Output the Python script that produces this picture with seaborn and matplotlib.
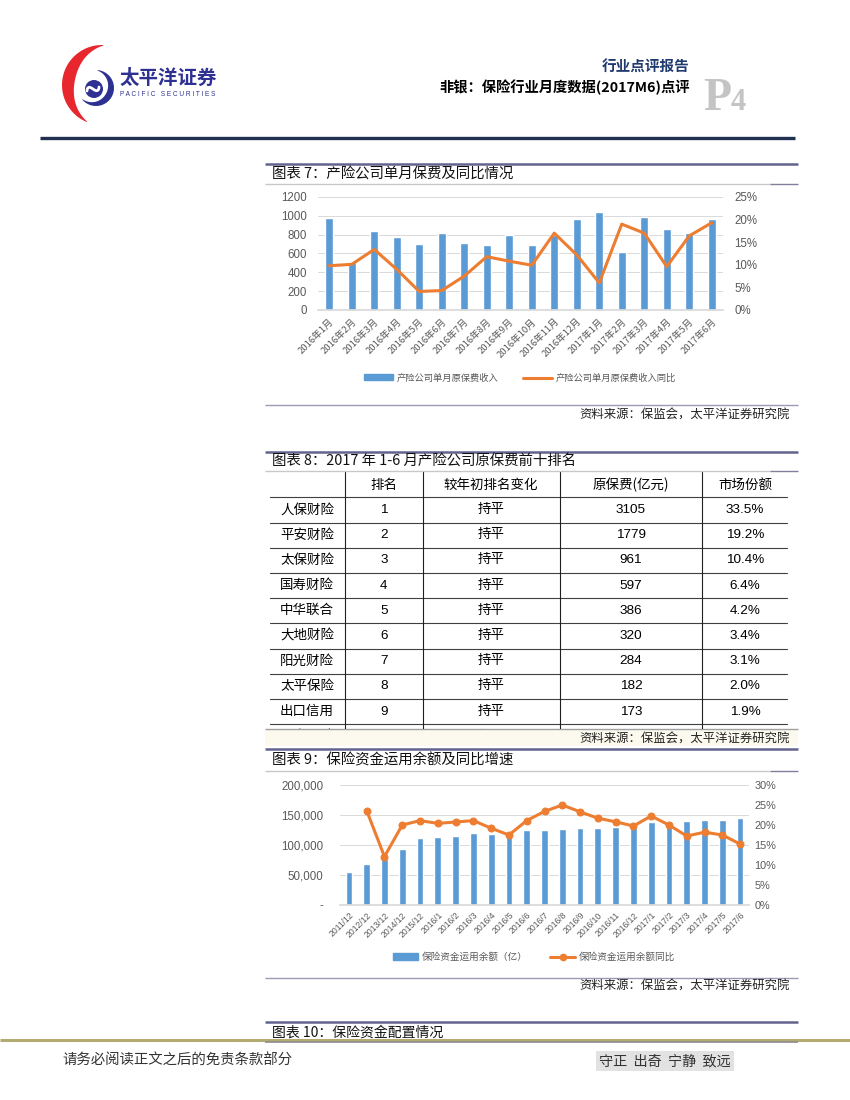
import matplotlib.pyplot as plt
import matplotlib.patches as mpatches
import matplotlib.ticker as mticker
from matplotlib.lines import Line2D
import numpy as np
import pandas as pd
import seaborn as sns

sns.set_theme(style='white')
plt.rcParams['font.family'] = ['Liberation Sans', 'Noto Sans CJK SC', 'DejaVu Sans']
plt.rcParams['axes.unicode_minus'] = False

CJK = ['Noto Sans CJK SC', 'DejaVu Sans']
BLUE = '#5b9bd5'
ORANGE = '#ed7d31'
GRAY = '#595959'
W, H = 850, 1100

# chart 7: monthly P&C premium and yoy
months7 = ['2016年1月', '2016年2月', '2016年3月', '2016年4月', '2016年5月', '2016年6月',
           '2016年7月', '2016年8月', '2016年9月', '2016年10月', '2016年11月', '2016年12月',
           '2017年1月', '2017年2月', '2017年3月', '2017年4月', '2017年5月', '2017年6月']
premium7 = [980, 515, 840, 780, 700, 815, 710, 690, 795, 685, 795, 970,
            1040, 620, 985, 855, 820, 970]
yoy7 = [0.098, 0.101, 0.134, 0.090, 0.041, 0.043, 0.075, 0.118, 0.108, 0.099, 0.170, 0.122,
        0.060, 0.190, 0.170, 0.096, 0.164, 0.193]

# chart 8: top ten table
companies = ['人保财险', '平安财险', '太保财险', '国寿财险', '中华联合', '大地财险',
             '阳光财险', '太平保险', '出口信用', '天安财险']
ranks = ['1', '2', '3', '4', '5', '6', '7', '8', '9', '10']
rank_change = ['持平'] * 10
premium8 = ['3105', '1779', '961', '597', '386', '320', '284', '182', '173', '']
share8 = ['33.5%', '19.2%', '10.4%', '6.4%', '4.2%', '3.4%', '3.1%', '2.0%', '1.9%', '']
headers8 = ['', '排名', '较年初排名变化', '原保费(亿元)', '市场份额']

# chart 9: insurance fund balance and yoy
dates9 = ['2011/12', '2012/12', '2013/12', '2014/12', '2015/12',
          '2016/1', '2016/2', '2016/3', '2016/4', '2016/5', '2016/6', '2016/7',
          '2016/8', '2016/9', '2016/10', '2016/11', '2016/12',
          '2017/1', '2017/2', '2017/3', '2017/4', '2017/5', '2017/6']
funds9 = [55500, 68500, 76900, 93300, 111800, 113300, 115000, 120000, 119000, 121500,
          125000, 125500, 126700, 127800, 129000, 130600, 133900,
          139000, 137500, 140500, 141100, 141700, 145000]
yoy9 = [np.nan, 0.236, 0.121, 0.200, 0.211, 0.204, 0.2075, 0.211, 0.192, 0.175, 0.211,
        0.234, 0.250, 0.233, 0.217, 0.208, 0.1975, 0.2225, 0.200, 0.1725, 0.182, 0.175, 0.1525]


fig = plt.figure(figsize=(8.5, 11), dpi=100)
fig.patch.set_facecolor('white')

# page layer in pixel coordinates
pg = fig.add_axes([0, 0, 1, 1])
pg.set_xlim(0, W)
pg.set_ylim(H, 0)
pg.axis('off')


def px_axes(x0, y0, x1, y1):
    return fig.add_axes([x0 / W, 1 - y1 / H, (x1 - x0) / W, (y1 - y0) / H])


def rule(y, x0, x1, color, lw):
    pg.plot([x0, x1], [y, y], color=color, lw=lw, solid_capstyle='butt')


def tapered(cx, cy, r, a0, a1, tmax):
    th = np.radians(np.linspace(a0, a1, 80))
    t = tmax * np.sin(np.pi * (th - th[0]) / (th[-1] - th[0])) + 0.5
    outer = np.c_[cx + r * np.cos(th), cy - r * np.sin(th)]
    inner = np.c_[cx + (r - t) * np.cos(th), cy - (r - t) * np.sin(th)]
    return np.vstack([outer, inner[::-1]])


# logo
pg.add_patch(mpatches.Polygon(tapered(102, 85, 40, 88, 248, 12), color='#e8262d', lw=0))
pg.add_patch(mpatches.Polygon(tapered(96, 88, 18, -140, 85, 6), color='#2e3192', lw=0))
pg.add_patch(mpatches.Circle((94, 89), 9, color='#2e3192', lw=0))
th = np.linspace(0, np.pi, 30)
pg.plot(94 + 6 * np.cos(th) - 1, 89 + 3 * np.sin(2 * th) - 2 * np.cos(th), color='white', lw=2)
pg.text(120, 78, '太平洋证券', fontsize=14, fontweight='bold', color='#2e3192', va='center', family=CJK)
pg.text(120, 94, 'P A C I F I C   S E C U R I T I E S', fontsize=4.7, color='#2e3192', va='center')

# header texts
pg.text(690, 67, '行业点评报告', fontsize=10.5, fontweight='bold', color='#1f3a6e',
        ha='right', va='center', family=CJK)
pg.text(690, 87, '非银：保险行业月度数据(2017M6)点评', fontsize=10.3, fontweight='bold',
        color='black', ha='right', va='center', family=CJK)
pg.text(703, 110, 'P', fontsize=33, fontweight='bold', color='#c4c4c4', family='Liberation Serif',
        ha='left', va='baseline')
pg.text(731, 110, '4', fontsize=22, fontweight='bold', color='#c4c4c4', family='Liberation Serif',
        ha='left', va='baseline')
rule(138, 40, 795, '#1f3050', 2.4)

PURPLE = '#62638f'


def section(top, title, under, size=10.4):
    rule(top, 265, 798, PURPLE, 1.8)
    pg.text(272, (top + under) / 2 + 0.5, title, fontsize=size, color='#111111', va='center', family=CJK)
    rule(under, 265, 770, '#c8c8c8', 1.0)
    rule(under, 770, 798, '#7f7f9a', 1.0)


def source(y):
    pg.text(790, y, '资料来源：保监会，太平洋证券研究院', fontsize=8.9, style='italic',
            color='#222222', ha='right', va='center', family=CJK)


# ---------- chart 7 ----------
section(164, '图表 7：产险公司单月保费及同比情况', 184)
ax7 = px_axes(318, 197, 723, 310)
df7 = pd.DataFrame({'month': months7, 'premium': premium7})
sns.barplot(data=df7, x='month', y='premium', color=BLUE, width=0.36, saturation=1, ax=ax7)
ax7.set_ylim(0, 1200)
ax7.set_yticks(range(0, 1201, 200))
ax7.yaxis.grid(True, color='#d9d9d9', lw=0.7)
ax7.set_axisbelow(True)
for s in ['top', 'right', 'left']:
    ax7.spines[s].set_visible(False)
ax7.spines['bottom'].set_color('#d9d9d9')
ax7.tick_params(axis='y', length=0, labelsize=8.3, colors=GRAY, pad=8)
ax7.tick_params(axis='x', length=0, colors=GRAY, pad=5)
ax7.set_xticks(range(len(months7)))
ax7.set_xticklabels(months7, rotation=45, ha='right', rotation_mode='anchor', fontsize=6.8, family=CJK)
ax7.set_xticks(np.arange(-0.5, len(months7), 1), minor=True)
ax7.tick_params(axis='x', which='minor', length=3, color='#d9d9d9')
ax7.set_xlabel('')
ax7.set_ylabel('')
ax7r = ax7.twinx()
sns.lineplot(x=np.arange(len(months7)), y=yoy7, color=ORANGE, lw=2.2, ax=ax7r)
ax7r.set_ylim(0, 0.25)
ax7r.set_yticks(np.arange(0, 0.251, 0.05))
ax7r.yaxis.set_major_formatter(mticker.PercentFormatter(1.0, decimals=0))
ax7r.tick_params(axis='y', length=0, labelsize=8.3, colors=GRAY, pad=8)
for s in ax7r.spines.values():
    s.set_visible(False)
ax7.set_xlim(-0.5, len(months7) - 0.5)

h7 = [mpatches.Patch(color=BLUE), Line2D([], [], color=ORANGE, lw=2.2)]
fig.legend(h7, ['产险公司单月原保费收入', '产险公司单月原保费收入同比'], loc='center',
           bbox_to_anchor=(520 / W, 1 - 378 / H), ncol=2, frameon=False,
           prop={'family': CJK, 'size': 6.7}, labelcolor=GRAY, handlelength=3.1,
           handleheight=0.6, columnspacing=2.6, handletextpad=0.4)
rule(405, 265, 798, '#9a9ab4', 1.0)
source(415)

# ---------- chart 8 table ----------
section(452, '图表 8：2017 年 1-6 月产险公司原保费前十排名', 471)
pg.add_patch(mpatches.Rectangle((265, 729), 533, 17, color='#fcfaee', lw=0))
ax8 = px_axes(265, 471, 798, 729)
ax8.set_xlim(265, 798)
ax8.set_ylim(729, 471)
ax8.axis('off')
col_x = [307, 384, 491, 631, 745]
vlines = [345, 423, 560, 702]
header_y = 485
row_h = 25.2
row0 = 510
for cx, hd in zip(col_x, headers8):
    ax8.text(cx, header_y, hd, fontsize=9.7, ha='center', va='center', color='black', family=CJK)
rows = list(zip(companies, ranks, rank_change, premium8, share8))
for i, row in enumerate(rows):
    yc = row0 + row_h * i
    for cx, val in zip(col_x, row):
        ax8.text(cx, yc, val, fontsize=9.7, ha='center', va='center', color='black',
                 family=['Liberation Sans', 'Noto Sans CJK SC'], clip_on=True)
for i in range(len(rows)):
    yl = row0 - row_h / 2 + row_h * i
    ax8.plot([270, 787], [yl, yl], color='#404040', lw=0.8)
for xv in vlines:
    ax8.plot([xv, xv], [472, 729], color='#202020', lw=0.8)
rule(729, 265, 798, '#a0a0a0', 1.0)
source(739)

# ---------- chart 9 ----------
section(749, '图表 9：保险资金运用余额及同比增速', 771)
ax9 = px_axes(340, 785, 749, 905)
df9 = pd.DataFrame({'date': dates9, 'funds': funds9})
sns.barplot(data=df9, x='date', y='funds', color=BLUE, width=0.38, saturation=1, ax=ax9)
ax9.set_ylim(0, 200000)
ax9.set_yticks(range(0, 200001, 50000))
ax9.yaxis.set_major_formatter(mticker.FuncFormatter(lambda v, p: '-' if v == 0 else f'{int(v):,}'))
ax9.yaxis.grid(True, color='#d9d9d9', lw=0.7)
ax9.set_axisbelow(True)
for s in ['top', 'right', 'left']:
    ax9.spines[s].set_visible(False)
ax9.spines['bottom'].set_color('#d9d9d9')
ax9.tick_params(axis='y', length=0, labelsize=8.3, colors=GRAY, pad=12)
ax9.tick_params(axis='x', length=0, colors=GRAY, pad=4)
ax9.set_xticks(range(len(dates9)))
ax9.set_xticklabels(dates9, rotation=45, ha='right', rotation_mode='anchor', fontsize=6.2)
ax9.set_xlabel('')
ax9.set_ylabel('')
ax9r = ax9.twinx()
sns.lineplot(x=np.arange(len(dates9)), y=yoy9, color=ORANGE, lw=2.2, marker='o', markersize=5,
             markeredgecolor=ORANGE, ax=ax9r)
ax9r.set_ylim(0, 0.30)
ax9r.set_yticks(np.arange(0, 0.301, 0.05))
ax9r.yaxis.set_major_formatter(mticker.PercentFormatter(1.0, decimals=0))
ax9r.tick_params(axis='y', length=0, labelsize=7.8, colors=GRAY, pad=4)
for s in ax9r.spines.values():
    s.set_visible(False)
ax9.set_xlim(-0.5, len(dates9) - 0.5)

h9 = [mpatches.Patch(color=BLUE),
      Line2D([], [], color=ORANGE, lw=2.2, marker='o', markersize=4.5)]
fig.legend(h9, ['保险资金运用余额（亿）', '保险资金运用余额同比'], loc='center',
           bbox_to_anchor=(534 / W, 1 - 957 / H), ncol=2, frameon=False,
           prop={'family': CJK, 'size': 6.9}, labelcolor=GRAY, handlelength=2.6,
           handleheight=0.6, columnspacing=2.4, handletextpad=0.4)
rule(978, 265, 798, '#9a9ab4', 1.0)
source(986)

# ---------- chart 10 heading + footer ----------
rule(1022, 265, 798, PURPLE, 1.8)
pg.text(272, 1033, '图表 10：保险资金配置情况', fontsize=10, color='#111111', va='center', family=CJK)
rule(1040, 0, 850, '#b3ab72', 2.2)
rule(1042, 265, 798, '#8c8c8c', 1.2)
pg.text(62, 1061, '请务必阅读正文之后的免责条款部分', fontsize=10.4, color='#333333', va='center', family=CJK)
pg.text(599, 1061, '守正  出奇  宁静  致远', fontsize=10.2, color='#333333', va='center', family=CJK,
        bbox=dict(facecolor='#e2e2e2', edgecolor='none', pad=2))

fig.savefig('out.png', dpi=100)
